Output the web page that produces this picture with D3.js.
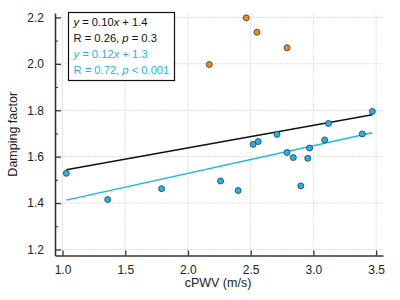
<!DOCTYPE html>
<html>
<head>
<meta charset="utf-8">
<script src="https://cdn.jsdelivr.net/npm/d3@7"></script>
<style>
  body { margin: 0; background: white; }
  text { font-family: "Liberation Sans", Arial, sans-serif; }
</style>
</head>
<body>
<div id="chart"></div>
<script>
let w = 400;
let h = 300;
let margin = {left: 55, right: 17, top: 13, bottom: 44.5};

// data
let blueX = [1.03, 1.36, 1.79, 2.26, 2.40, 2.52, 2.56, 2.71, 2.79, 2.84, 2.90, 2.955, 2.97, 3.09, 3.12, 3.39, 3.47];
let blueY = [1.528, 1.415, 1.462, 1.495, 1.454, 1.653, 1.665, 1.696, 1.618, 1.596, 1.474, 1.593, 1.637, 1.672, 1.743, 1.698, 1.795];
let orangeX = [2.17, 2.465, 2.55, 2.79];
let orangeY = [1.997, 2.198, 2.136, 2.069];

// fitted lines: [slope, intercept, xmin, xmax]
let allFit = [0.097, 1.444, 1.03, 3.47];
let blueFit = [0.119, 1.290, 1.03, 3.47];

let legendLines = [
  {parts: [["y", true], [" = 0.10", false], ["x", true], [" + 1.4", false]], color: "#111"},
  {parts: [["R = 0.26, ", false], ["p", true], [" = 0.3", false]], color: "#111"},
  {parts: [["y", true], [" = 0.12", false], ["x", true], [" + 1.3", false]], color: "#1ab6ee"},
  {parts: [["R = 0.72, ", false], ["p", true], [" < 0.001", false]], color: "#1ab6ee"}
];

let xTicks = [1.0, 1.5, 2.0, 2.5, 3.0, 3.5];
let yTicks = [1.2, 1.4, 1.6, 1.8, 2.0, 2.2];
let yMinor = [1.3, 1.5, 1.7, 1.9, 2.1];

let blue = "#1ab6ee";
let orange = "#ee8c1e";

let viz = d3.select("#chart").append("svg")
  .attr("width", w)
  .attr("height", h);

let xScale = d3.scaleLinear().domain([0.94, 3.555]).range([margin.left, w - margin.right]);
let yScale = d3.scaleLinear().domain([1.174, 2.219]).range([h - margin.bottom, margin.top]);

// grid
viz.append("g").selectAll("line").data(xTicks).enter()
  .append("line")
  .attr("x1", d => xScale(d)).attr("x2", d => xScale(d))
  .attr("y1", yScale.range()[0]).attr("y2", yScale.range()[1])
  .attr("stroke", "#dcdcdc").attr("stroke-width", 1).attr("stroke-dasharray", "2,1");
viz.append("g").selectAll("line").data(yTicks).enter()
  .append("line")
  .attr("x1", xScale.range()[0]).attr("x2", xScale.range()[1])
  .attr("y1", d => yScale(d)).attr("y2", d => yScale(d))
  .attr("stroke", "#dcdcdc").attr("stroke-width", 1).attr("stroke-dasharray", "2,1");

// axes
let xAxis = d3.axisBottom(xScale).tickValues(xTicks).tickFormat(d3.format(".1f")).tickSizeInner(-5).tickSizeOuter(0).tickPadding(10);
let xAxisGroup = viz.append("g")
  .attr("transform", "translate(0," + (h - margin.bottom) + ")")
  .call(xAxis);

let yAxis = d3.axisLeft(yScale).tickValues(yTicks).tickFormat(d3.format(".1f")).tickSizeInner(-6).tickSizeOuter(0).tickPadding(11);
let yAxisGroup = viz.append("g")
  .attr("transform", "translate(" + margin.left + ",0)")
  .call(yAxis);

let yMinorAxis = d3.axisLeft(yScale).tickValues(yMinor).tickFormat("").tickSizeInner(-3).tickSizeOuter(0);
viz.append("g")
  .attr("transform", "translate(" + margin.left + ",0)")
  .call(yMinorAxis)
  .select(".domain").remove();

[xAxisGroup, yAxisGroup].forEach(g => {
  g.select(".domain").attr("stroke", "#333").attr("stroke-width", 1.6);
  g.selectAll(".tick line").attr("stroke", "#333").attr("stroke-width", 1.3);
  g.selectAll(".tick text").attr("font-size", 12).attr("fill", "#222")
    .style("font-family", "'Liberation Sans', Arial, sans-serif");
});
viz.selectAll(".tick line").attr("stroke", "#333");

// axis titles
viz.append("text")
  .text("cPWV (m/s)")
  .attr("x", 218).attr("y", 287)
  .attr("text-anchor", "middle")
  .attr("font-size", 12.5).attr("fill", "#222");
viz.append("text")
  .text("Damping factor")
  .attr("transform", "translate(17," + (margin.top + (h - margin.bottom - margin.top) / 2) + ") rotate(-90)")
  .attr("text-anchor", "middle")
  .attr("font-size", 12.5).attr("fill", "#222");

// regression lines
function fitLine(fit, color) {
  viz.append("line")
    .attr("x1", xScale(fit[2])).attr("y1", yScale(fit[0] * fit[2] + fit[1]))
    .attr("x2", xScale(fit[3])).attr("y2", yScale(fit[0] * fit[3] + fit[1]))
    .attr("stroke", color).attr("stroke-width", 1.5);
}
fitLine(allFit, "#111");
fitLine(blueFit, blue);

// points
function dots(xs, ys, color) {
  viz.append("g").selectAll("circle").data(xs).enter()
    .append("circle")
    .attr("cx", d => xScale(d))
    .attr("cy", (d, i) => yScale(ys[i]))
    .attr("r", 3)
    .attr("fill", color)
    .attr("stroke", "#333")
    .attr("stroke-width", 0.8);
}
dots(orangeX, orangeY, orange);
dots(blueX, blueY, blue);

// legend box
let legend = viz.append("g").attr("transform", "translate(68.5,12.5)");
legend.append("rect")
  .attr("width", 106).attr("height", 68)
  .attr("fill", "white").attr("stroke", "#111").attr("stroke-width", 1.2);
legendLines.forEach((line, i) => {
  let t = legend.append("text")
    .attr("x", 5).attr("y", 13 + i * 16)
    .attr("font-size", 11.2).attr("fill", line.color);
  line.parts.forEach(p => {
    t.append("tspan").text(p[0]).attr("font-style", p[1] ? "italic" : "normal");
  });
});
</script>
</body>
</html>
